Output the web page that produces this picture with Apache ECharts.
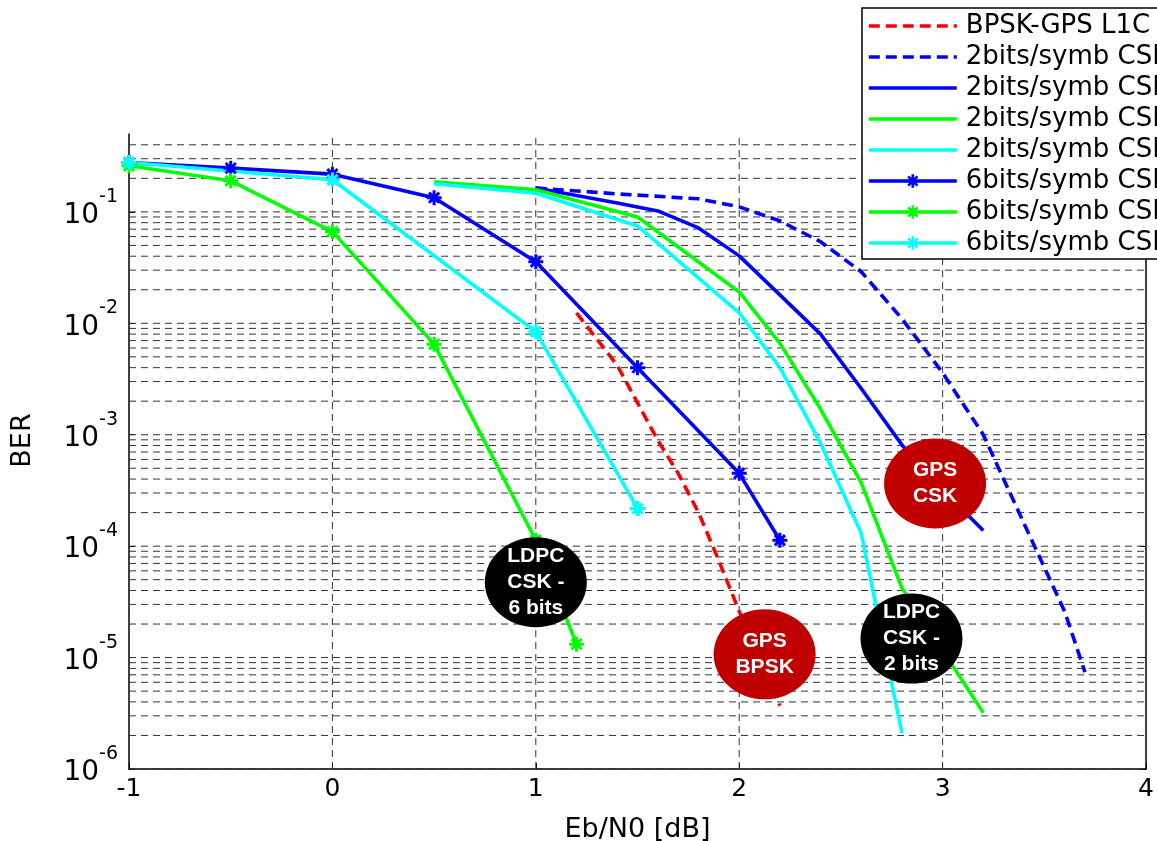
<!DOCTYPE html>
<html>
<head>
<meta charset="UTF-8">
<title>BER vs Eb/N0</title>
<script src="https://cdn.jsdelivr.net/npm/echarts@6/dist/echarts.min.js"></script>
<style>
  body { margin: 0; background: #fff; }
  #root { width: 1157px; height: 841px; }
</style>
</head>
<body>
<div id="root"></div>
<script>
  // curves (x = Eb/N0 in dB, y = BER)
  var xBpsk = [1.2, 1.4, 1.6, 1.7, 1.8, 1.9, 2.0, 2.2];
  var berBpsk = [1.24e-2, 4.2e-3, 8.9e-4, 4.5e-4, 2.0e-4, 7.4e-5, 2.6e-5, 3.7e-6];

  var xCsk2Unc = [1.0, 1.4, 1.8, 2.0, 2.2, 2.4, 2.6, 2.8, 3.0, 3.2, 3.4, 3.6, 3.7];
  var berCsk2Unc = [0.164, 0.145, 0.131, 0.111, 0.083, 0.054, 0.029, 0.011, 3.6e-3, 1.0e-3, 1.6e-4, 2.6e-5, 7.4e-6];

  var xCsk2Blue = [1.0, 1.2, 1.4, 1.6, 1.8, 2.0, 2.2, 2.4, 2.6, 2.8, 3.0, 3.2];
  var berCsk2Blue = [0.164, 0.140, 0.120, 0.102, 0.0718, 0.0403, 0.018, 8.0e-3, 2.6e-3, 8.1e-4, 3.2e-4, 1.38e-4];

  var xCsk2Green = [0.5, 1.0, 1.5, 2.0, 2.2, 2.4, 2.6, 2.8, 3.2];
  var berCsk2Green = [0.186, 0.158, 0.090, 0.0191, 6.6e-3, 1.7e-3, 3.7e-4, 4.2e-5, 3.2e-6];

  var xCsk2Cyan = [0.5, 1.0, 1.5, 2.0, 2.2, 2.4, 2.6, 2.8];
  var berCsk2Cyan = [0.179, 0.147, 0.0748, 0.0124, 4.0e-3, 8.4e-4, 1.3e-4, 2.1e-6];

  var xCsk6Blue = [-1, -0.5, 0, 0.5, 1, 1.5, 2, 2.2];
  var berCsk6Blue = [0.277, 0.247, 0.218, 0.134, 0.0357, 4.0e-3, 4.5e-4, 1.13e-4];

  var xCsk6Green = [-1, -0.5, 0, 0.5, 1, 1.2];
  var berCsk6Green = [0.259, 0.190, 0.0665, 6.5e-3, 1.13e-4, 1.32e-5];

  var xCsk6Cyan = [-1, 0, 1, 1.5];
  var berCsk6Cyan = [0.277, 0.194, 8.4e-3, 2.18e-4];

  var names = [
    'BPSK-GPS L1C (LDPC)',
    '2bits/symb CSK uncoded',
    '2bits/symb CSK LDPC r=1/2',
    '2bits/symb CSK LDPC r=1/2 (2)',
    '2bits/symb CSK LDPC r=1/2 (3)',
    '6bits/symb CSK LDPC r=1/2',
    '6bits/symb CSK LDPC r=1/2 (2)',
    '6bits/symb CSK LDPC r=1/2 (3)'
  ];
  var hasMarker = [false, false, false, false, false, true, true, true];

  // bubbles on the plot
  var noteX = [1.0, 2.125, 2.847, 2.963];
  var noteY = [4.74e-5, 1.07e-5, 1.48e-5, 3.65e-4];
  var noteText = ['LDPC\nCSK -\n6 bits', 'GPS\nBPSK', 'LDPC\nCSK -\n2 bits', 'GPS\nCSK'];
  var noteColor = ['#000000', '#c00000', '#000000', '#c00000'];

  var yTickMajor = [1e-6, 1e-5, 1e-4, 1e-3, 1e-2, 1e-1];
  var xGrid = [0, 1, 2, 3];
  var X_MIN = -1, X_MAX = 4, Y_MIN = 1e-6, Y_MAX = 0.5;

  function pairs(xs, ys) {
    return xs.map(function (x, i) { return [x, ys[i]]; });
  }

  // minor + major horizontal grid lines of the log axis
  var yGrid = [];
  yTickMajor.forEach(function (d) {
    for (var k = 1; k <= 9; k++) {
      var v = d * k;
      if (v < Y_MAX) yGrid.push(+v.toPrecision(3));
    }
  });

  var star = 'path://M4,0H6V10H4Z M0,4H10V6H0Z M0.9,2.3L2.3,0.9L9.1,7.7L7.7,9.1Z M7.7,0.9L9.1,2.3L2.3,9.1L0.9,7.7Z';
  var FONT = '"DejaVu Sans", sans-serif';
  var gridStyle = { stroke: '#333', lineWidth: 1, lineDash: [7, 5] };

  function lineSeries(name, xs, ys, color, dashed, marker) {
    return {
      name: name,
      type: 'line',
      z: 3,
      data: pairs(xs, ys),
      symbol: marker ? star : 'none',
      symbolSize: 15,
      showSymbol: !!marker,
      itemStyle: { color: color },
      lineStyle: { color: color, width: 3.6, type: dashed ? [11, 6] : 'solid' },
      animation: false
    };
  }

  var series = [
    {
      type: 'custom',
      z: 1,
      silent: true,
      data: yGrid.map(function (v) { return [X_MIN, v]; }),
      renderItem: function (params, api) {
        var v = api.value(1);
        var a = api.coord([X_MIN, v]), b = api.coord([X_MAX, v]);
        return { type: 'line', shape: { x1: a[0], y1: a[1], x2: b[0], y2: b[1] }, style: gridStyle };
      }
    },
    {
      type: 'custom',
      z: 1,
      silent: true,
      data: xGrid.map(function (x) { return [x, Y_MAX]; }),
      renderItem: function (params, api) {
        var x = api.value(0);
        var a = api.coord([x, Y_MIN]), b = api.coord([x, Y_MAX]);
        return { type: 'line', shape: { x1: a[0], y1: a[1], x2: b[0], y2: b[1] }, style: gridStyle };
      }
    },
    lineSeries(names[0], xBpsk, berBpsk, '#ff0000', true, false),
    lineSeries(names[1], xCsk2Unc, berCsk2Unc, '#0000ff', true, false),
    lineSeries(names[2], xCsk2Blue, berCsk2Blue, '#0000ff', false, false),
    lineSeries(names[3], xCsk2Green, berCsk2Green, '#00ff00', false, false),
    lineSeries(names[4], xCsk2Cyan, berCsk2Cyan, '#00ffff', false, false),
    lineSeries(names[5], xCsk6Blue, berCsk6Blue, '#0000ff', false, true),
    lineSeries(names[6], xCsk6Green, berCsk6Green, '#00ff00', false, true),
    lineSeries(names[7], xCsk6Cyan, berCsk6Cyan, '#00ffff', false, true),
    {
      name: 'notes',
      type: 'scatter',
      z: 20,
      symbol: 'circle',
      symbolSize: [102, 90],
      data: noteX.map(function (x, i) {
        return { value: [x, noteY[i]], itemStyle: { color: noteColor[i], opacity: 1 } };
      }),
      itemStyle: { opacity: 1 },
      label: {
        show: true,
        position: 'inside',
        formatter: function (p) { return noteText[p.dataIndex]; },
        color: '#fff',
        fontWeight: 'bold',
        fontSize: 21,
        lineHeight: 26,
        fontFamily: '"Liberation Sans", Arial, sans-serif'
      },
      animation: false
    }
  ];

  var chart = echarts.init(document.getElementById('root'));
  chart.setOption({
    backgroundColor: '#fff',
    animation: false,
    grid: { left: 129, right: 11, top: 134, bottom: 72, containLabel: false, outerBoundsMode: 'none' },
    legend: {
      data: names.map(function (n, i) {
        return hasMarker[i] ? { name: n } : { name: n, itemStyle: { opacity: 0 } };
      }),
      orient: 'vertical',
      left: 862,
      top: 8,
      padding: [5, 5, 3, 5],
      itemGap: 5,
      itemWidth: 88,
      itemHeight: 17,
      borderColor: '#000',
      borderWidth: 1.5,
      borderRadius: 0,
      backgroundColor: '#fff',
      z: 30,
      lineStyle: { width: 3.6 },
      textStyle: { fontFamily: FONT, fontSize: 26, lineHeight: 26, color: '#000', padding: [0, 0, 0, 4] }
    },
    xAxis: {
      type: 'value',
      min: X_MIN,
      max: X_MAX,
      interval: 1,
      name: 'Eb/N0 [dB]',
      nameLocation: 'middle',
      nameGap: 47,
      nameTextStyle: { fontFamily: FONT, fontSize: 27, color: '#000' },
      axisLine: { show: true, onZero: false, lineStyle: { color: '#000', width: 1.5 } },
      axisTick: { show: true, inside: true, length: 6, lineStyle: { color: '#000' } },
      axisLabel: { fontFamily: FONT, fontSize: 25, lineHeight: 25, color: '#000', margin: 8 },
      splitLine: { show: false }
    },
    yAxis: [{
      type: 'log',
      min: Y_MIN,
      max: Y_MAX,
      name: 'BER',
      nameLocation: 'middle',
      nameGap: 93,
      nameTextStyle: { fontFamily: FONT, fontSize: 27, color: '#000', padding: [0, 0, 0, 22] },
      axisLine: { show: true, onZero: false, lineStyle: { color: '#000', width: 1.5 } },
      axisTick: { show: true, inside: true, length: 6, lineStyle: { color: '#000' } },
      splitLine: { show: false },
      axisLabel: {
        margin: 11,
        showMaxLabel: false,
        formatter: function (v) {
          var e = Math.round(Math.log10(v));
          if (Math.abs(Math.log10(v) - e) > 1e-6) return '';
          return '{b|10}{e|' + e + '}';
        },
        rich: {
          b: { fontFamily: FONT, fontSize: 28, lineHeight: 30, color: '#000', padding: [8, 0, 0, 0] },
          e: { fontFamily: FONT, fontSize: 19, lineHeight: 19, color: '#000', padding: [0, 0, 30, 0] }
        }
      }
    }, {
      type: 'log',
      min: Y_MIN,
      max: Y_MAX,
      position: 'right',
      axisLine: { show: true, onZero: false, lineStyle: { color: '#000', width: 1.5 } },
      axisTick: { show: true, inside: true, length: 6, lineStyle: { color: '#000' } },
      axisLabel: { show: false },
      splitLine: { show: false }
    }],
    series: series
  });
</script>
</body>
</html>
